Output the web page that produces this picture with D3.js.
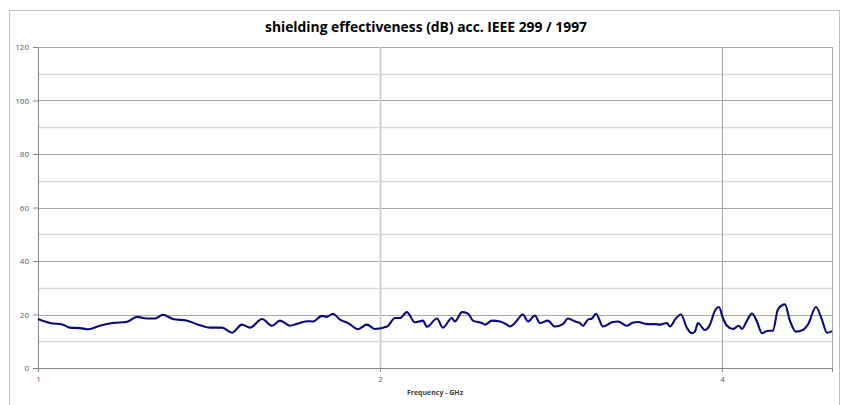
<!DOCTYPE html>
<html>
  <head>
    <meta charset="UTF-8">
    <title>shielding effectiveness</title>
    <script src="https://cdn.jsdelivr.net/npm/d3@7"></script>
    <style type="text/css">
      body { margin: 0; background: #fff; }
      .tick-label { font-family: "Open Sans", sans-serif; font-size: 8px; fill: #595959; }
    </style>
  </head>
  <body>

  <script type="text/javascript">

    // values
    var freqGHz = [1.000, 1.025, 1.052, 1.067, 1.089, 1.107, 1.134, 1.164, 1.198, 1.222,
      1.247, 1.268, 1.288, 1.315, 1.353, 1.380, 1.417, 1.452, 1.482, 1.512,
      1.537, 1.575, 1.607, 1.633, 1.667, 1.690, 1.725, 1.746, 1.778, 1.796,
      1.818, 1.844, 1.875, 1.913, 1.948, 1.980, 2.029, 2.062, 2.083, 2.112,
      2.147, 2.182, 2.200, 2.245, 2.272, 2.314, 2.328, 2.362, 2.390, 2.415,
      2.459, 2.474, 2.510, 2.551, 2.587, 2.603, 2.629, 2.672, 2.700, 2.738,
      2.766, 2.811, 2.851, 2.898, 2.928, 2.970, 3.000, 3.018, 3.049, 3.074,
      3.099, 3.143, 3.201, 3.240, 3.299, 3.333, 3.374, 3.436, 3.492, 3.528,
      3.578, 3.600, 3.637, 3.681, 3.727, 3.764, 3.787, 3.810, 3.864, 3.904,
      3.943, 3.976, 4.008, 4.041, 4.090, 4.140, 4.166, 4.208, 4.251, 4.294,
      4.338, 4.382, 4.436, 4.481, 4.545, 4.591, 4.647, 4.713, 4.762, 4.840,
      4.899, 4.949, 5.000];

    var seDB = [18.3, 16.8, 16.2, 15.1, 14.9, 14.5, 15.8, 16.8, 17.3, 19.1,
      18.5, 18.5, 19.9, 18.3, 17.7, 16.4, 15.1, 15.1, 13.2, 16.2,
      15.1, 18.3, 15.8, 17.7, 15.8, 16.5, 17.5, 17.4, 19.5, 19.1,
      20.3, 18.1, 16.8, 14.5, 16.2, 14.6, 15.5, 18.7, 18.7, 20.9,
      17.1, 17.7, 15.4, 18.5, 15.1, 18.7, 17.4, 20.9, 20.4, 17.7,
      16.8, 16.2, 17.7, 17.4, 16.2, 15.5, 16.8, 20.0, 17.4, 19.6,
      16.8, 17.7, 15.5, 16.4, 18.5, 17.4, 16.8, 15.8, 18.1, 18.5,
      20.3, 15.5, 17.1, 17.4, 15.8, 16.8, 17.2, 16.4, 16.4, 16.2,
      16.8, 15.5, 18.1, 20.0, 14.9, 13.0, 13.6, 16.8, 14.2, 16.2,
      21.3, 22.8, 18.7, 15.8, 14.6, 15.8, 14.6, 17.7, 20.4, 17.4,
      13.0, 13.8, 14.0, 21.9, 23.8, 17.7, 13.6, 14.2, 16.2, 22.8,
      18.1, 13.2, 13.8];

    var xTicks = [1, 2, 4];
    var yTicks = [0, 20, 40, 60, 80, 100, 120];
    var yMinor = [10, 30, 50, 70, 90, 110];
    var titleText = 'shielding effectiveness (dB) acc. IEEE 299 / 1997';
    var xTitle = 'Frequency - GHz';

    var W = 845, H = 405;
    var margin = {top: 47, right: 13, bottom: 37, left: 38},
      width = W - margin.left - margin.right,
      height = H - margin.top - margin.bottom;

    var svg = d3.select('body')
      .append('svg')
      .attr('width', W)
      .attr('height', H);

    // outer chart border
    svg.append('rect')
      .attr('x', 9.5)
      .attr('y', 10.5)
      .attr('width', 830)
      .attr('height', 420)
      .attr('fill', 'none')
      .attr('stroke', '#bfbfbf')
      .attr('stroke-width', 1);

    svg.append('text')
      .attr('x', 426)
      .attr('y', 32)
      .attr('text-anchor', 'middle')
      .attr('textLength', 322)
      .attr('lengthAdjust', 'spacingAndGlyphs')
      .style('font-family', '"Open Sans", sans-serif')
      .style('font-weight', 'bold')
      .style('font-size', '14px')
      .style('fill', '#000')
      .text(titleText);

    var x = d3.scaleLog().base(2).domain([1, 5]).range([0, width]);
    var y = d3.scaleLinear().domain([0, 120]).range([height, 0]);

    var g = svg.append('g')
      .attr('transform', 'translate(' + margin.left + ',' + margin.top + ')');

    // minor gridlines
    g.selectAll('line.minor')
      .data(yMinor)
      .enter()
      .append('line')
      .attr('class', 'minor')
      .attr('x1', 0).attr('x2', width)
      .attr('y1', function(d) { return Math.round(y(d)) + 0.5; })
      .attr('y2', function(d) { return Math.round(y(d)) + 0.5; })
      .attr('stroke', '#d9d9d9')
      .attr('stroke-width', 1.5);

    // major gridlines
    g.selectAll('line.major')
      .data(yTicks.slice(1))
      .enter()
      .append('line')
      .attr('class', 'major')
      .attr('x1', 0).attr('x2', width)
      .attr('y1', function(d) { return Math.round(y(d)) + 0.5; })
      .attr('y2', function(d) { return Math.round(y(d)) + 0.5; })
      .attr('stroke', '#a6a6a6')
      .attr('stroke-width', 1);

    // vertical gridlines
    g.selectAll('line.vgrid')
      .data(xTicks.slice(1))
      .enter()
      .append('line')
      .attr('class', 'vgrid')
      .attr('x1', function(d) { return Math.round(x(d)) + 0.5; })
      .attr('x2', function(d) { return Math.round(x(d)) + 0.5; })
      .attr('y1', 0).attr('y2', height)
      .attr('stroke', function(d) { return d == 2 ? '#cfcfcf' : '#a6a6a6'; })
      .attr('stroke-width', function(d) { return d == 2 ? 2 : 1; });

    // right edge of plot area
    g.append('line')
      .attr('x1', width + 0.5).attr('x2', width + 0.5)
      .attr('y1', 0).attr('y2', height)
      .attr('stroke', '#a6a6a6');

    // axes
    var yAxis = g.append('g')
      .call(d3.axisLeft(y).tickValues(yTicks).tickSize(5).tickPadding(4));
    var xAxis = g.append('g')
      .attr('transform', 'translate(0,' + height + ')')
      .call(d3.axisBottom(x).tickValues(xTicks).tickFormat(d3.format('d')).tickSize(4).tickPadding(4));

    [yAxis, xAxis].forEach(function(a) {
      a.select('.domain').attr('stroke', '#868686');
      a.selectAll('.tick line').attr('stroke', '#868686');
      a.selectAll('.tick text').attr('class', 'tick-label');
    });
    yAxis.selectAll('.tick text').attr('dy', '0.32em');

    svg.append('text')
      .attr('x', 435)
      .attr('y', 395)
      .attr('text-anchor', 'middle')
      .style('font-family', '"Open Sans", sans-serif')
      .style('font-weight', 'bold')
      .style('font-size', '7px')
      .style('fill', '#404040')
      .text(xTitle);

    var line = d3.line()
      .curve(d3.curveMonotoneX)
      .x(function(d) { return x(d[0]); })
      .y(function(d) { return y(d[1]); });

    g.append('path')
      .datum(d3.zip(freqGHz, seDB))
      .attr('d', line)
      .attr('fill', 'none')
      .attr('stroke', '#0a0a80')
      .attr('stroke-width', 2.1)
      .attr('stroke-linejoin', 'round');

  </script>

  </body>
</html>
